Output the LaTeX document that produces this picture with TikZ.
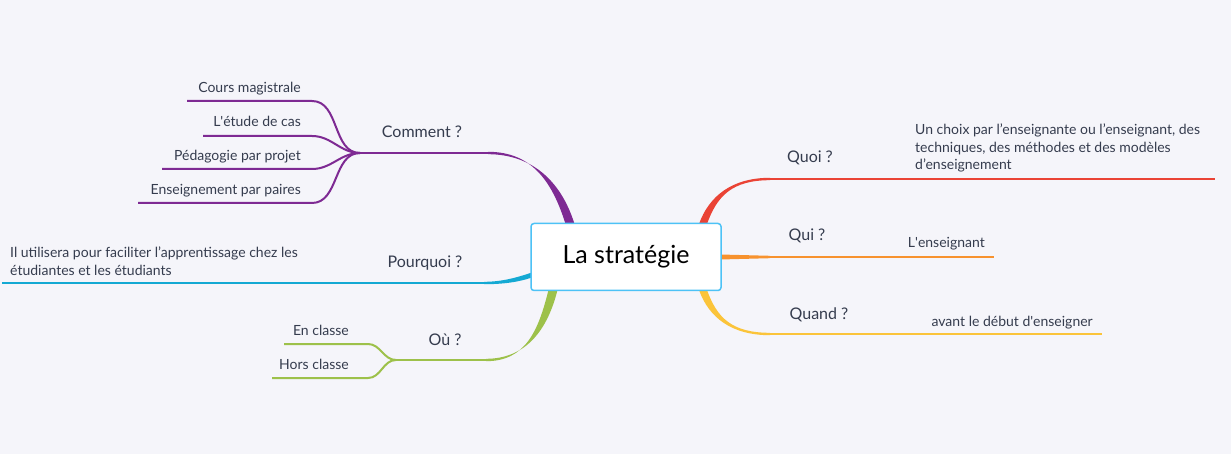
\documentclass[tikz,border=0pt]{standalone}
\usepackage{fontspec}
\setmainfont{Lato}
\definecolor{bg}{HTML}{F5F5FA}
\definecolor{ink}{HTML}{353C4E}
\definecolor{frame}{HTML}{4DC2F6}
\definecolor{cComment}{HTML}{7E2A93}
\definecolor{cQuoi}{HTML}{EA4335}
\definecolor{cQui}{HTML}{F7922E}
\definecolor{cQuand}{HTML}{FBC43A}
\definecolor{cOu}{HTML}{9DC14A}
\definecolor{cPourquoi}{HTML}{14A9D3}
\begin{document}
\begin{tikzpicture}[x=1pt,y=-1pt,
  centre/.style={draw=frame,fill=white,line width=1.5pt,rounded corners=3pt,
    minimum width=190pt,minimum height=67pt,text=black,font=\fontsize{25}{29}\selectfont},
  topic/.style={text=ink,inner sep=0pt,font=\fontsize{16}{19}\selectfont},
  leaf/.style={text=ink,inner sep=0pt,font=\fontsize{14}{17.5}\selectfont},
  limb/.style={line width=2.4pt},
  twig/.style={line width=2pt}]
\useasboundingbox[fill=bg] (0,0) rectangle (1231,454);

\coordinate (comment-root) at (570,224);
\coordinate (comment-knot) at (488,153);
\coordinate (comment-fork) at (360,153);
\coordinate (quoi-root) at (703,224);
\coordinate (quoi-knot) at (770,179);
\coordinate (quoi-end) at (1215,179);
\coordinate (qui-root) at (720,257);
\coordinate (qui-knot) at (770,257);
\coordinate (qui-end) at (994,257);
\coordinate (quand-root) at (703,290);
\coordinate (quand-knot) at (770,334);
\coordinate (quand-end) at (1102,334);
\coordinate (pourquoi-root) at (532,275);
\coordinate (pourquoi-knot) at (484,283);
\coordinate (pourquoi-end) at (2,283);
\coordinate (ou-root) at (553,290);
\coordinate (ou-knot) at (486,360);
\coordinate (ou-fork) at (396,360);

\fill[cComment] ([xshift=-4.5pt]comment-root) .. controls +(-14,-45) and +(42,0) .. ([yshift=1.2pt]comment-knot)
  -- ([yshift=-1.2pt]comment-knot) .. controls +(42,0) and +(-14,-45) .. ([xshift=4.5pt]comment-root) -- cycle;
\draw[cComment,limb] (comment-knot) -- (comment-fork);
\coordinate (cours-end) at (312,101);
\coordinate (cours-start) at (187,101);
\coordinate (etude-end) at (312,136);
\coordinate (etude-start) at (203,136);
\coordinate (pedago-end) at (312,169);
\coordinate (pedago-start) at (162,169);
\coordinate (paires-end) at (312,203);
\coordinate (paires-start) at (138,203);
\draw[cComment,twig] (comment-fork) to[out=180,in=0] (cours-end) -- (cours-start);
\draw[cComment,twig] (comment-fork) to[out=180,in=0] (etude-end) -- (etude-start);
\draw[cComment,twig] (comment-fork) to[out=180,in=0] (pedago-end) -- (pedago-start);
\draw[cComment,twig] (comment-fork) to[out=180,in=0] (paires-end) -- (paires-start);

\fill[cQuoi] ([xshift=-4pt]quoi-root) .. controls +(10,-28) and +(-38,0) .. ([yshift=1.2pt]quoi-knot)
  -- ([yshift=-1.2pt]quoi-knot) .. controls +(-38,0) and +(10,-28) .. ([xshift=4pt]quoi-root) -- cycle;
\draw[cQuoi,limb] (quoi-knot) -- (quoi-end);

\fill[cQui] ([yshift=2.5pt]qui-root) -- ([yshift=1.2pt]qui-knot) -- ([yshift=-1.2pt]qui-knot) -- ([yshift=-2.5pt]qui-root) -- cycle;
\draw[cQui,limb] (qui-knot) -- (qui-end);

\fill[cQuand] ([xshift=-4pt]quand-root) .. controls +(10,28) and +(-38,0) .. ([yshift=-1.2pt]quand-knot)
  -- ([yshift=1.2pt]quand-knot) .. controls +(-38,0) and +(10,28) .. ([xshift=4pt]quand-root) -- cycle;
\draw[cQuand,limb] (quand-knot) -- (quand-end);

\fill[cPourquoi] ([yshift=2.5pt]pourquoi-root) .. controls +(-15,5) and +(18,0) .. ([yshift=1.2pt]pourquoi-knot)
  -- ([yshift=-1.2pt]pourquoi-knot) .. controls +(18,0) and +(-15,5) .. ([yshift=-2.5pt]pourquoi-root) -- cycle;
\draw[cPourquoi,limb] (pourquoi-knot) -- (pourquoi-end);

\fill[cOu] ([xshift=-4.5pt]ou-root) .. controls +(-10,40) and +(40,0) .. ([yshift=-1.2pt]ou-knot)
  -- ([yshift=1.2pt]ou-knot) .. controls +(40,0) and +(-10,40) .. ([xshift=4.5pt]ou-root) -- cycle;
\draw[cOu,limb] (ou-knot) -- (ou-fork);
\coordinate (en-end) at (368,344);
\coordinate (en-start) at (284,344);
\coordinate (hors-end) at (368,378);
\coordinate (hors-start) at (272,378);
\draw[cOu,twig] (ou-fork) to[out=180,in=0] (en-end) -- (en-start);
\draw[cOu,twig] (ou-fork) to[out=180,in=0] (hors-end) -- (hors-start);

\node[centre] (strat) at (626,257) {La stratégie};

\node[topic,anchor=base] (comment) at (422,138) {Comment ?};
\node[leaf,anchor=base east] (cours) at (301,93) {Cours magistrale};
\node[leaf,anchor=base east] (etude) at (301,127) {L\textquotesingle étude de cas};
\node[leaf,anchor=base east] (pedago) at (301,161) {Pédagogie par projet};
\node[leaf,anchor=base east] (paires) at (301,195) {Enseignement par paires};

\node[topic,anchor=base] (quoi) at (810,163) {Quoi ?};
\node[leaf,anchor=west,align=left] (choix) at (915,148) {Un choix par l’enseignante ou l’enseignant, des\\techniques, des méthodes et des modèles\\d’enseignement};

\node[topic,anchor=base] (qui) at (807,241) {Qui ?};
\node[leaf,anchor=base east] (enseignant) at (985,248) {L\textquotesingle enseignant};

\node[topic,anchor=base] (quand) at (819,319) {Quand ?};
\node[leaf,anchor=base east] (avant) at (1093,326) {avant le début d\textquotesingle enseigner};

\node[topic,anchor=base] (pourquoi) at (425,268) {Pourquoi ?};
\node[leaf,anchor=west,align=left] (utilisera) at (10,261) {Il utilisera pour faciliter l’apprentissage chez les\\étudiantes et les étudiants};

\node[topic,anchor=base] (ou) at (445,345) {Où ?};
\node[leaf,anchor=base east] (enclasse) at (349,335) {En classe};
\node[leaf,anchor=base east] (horsclasse) at (349,369) {Hors classe};
\end{tikzpicture}
\end{document}
